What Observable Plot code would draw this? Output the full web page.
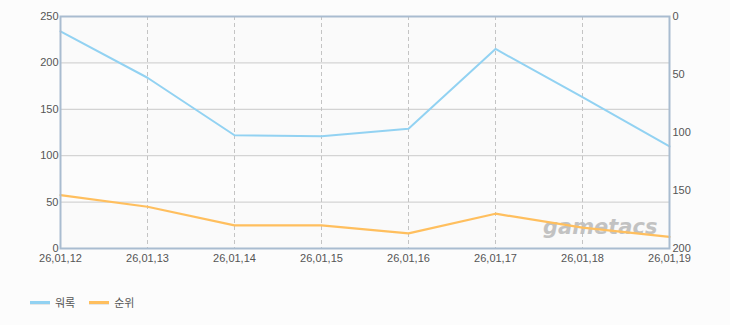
<!DOCTYPE html>
<html>
<head>
<meta charset="utf-8">
<script src="https://cdn.jsdelivr.net/npm/d3@7"></script>
<script src="https://cdn.jsdelivr.net/npm/@observablehq/plot@0.6"></script>
<style>
  html, body { margin: 0; padding: 0; background: #fcfcfc; }
  #chart { width: 730px; }
  .legend { display: flex; align-items: center; margin: 14px 0 0 30px; font: 11px "Liberation Sans", "Noto Sans CJK KR", sans-serif; color: #555; }
  .legend .item { display: flex; align-items: center; margin-right: 14px; }
  .legend .sw { width: 20px; height: 3px; margin-right: 5px; box-shadow: 0 1px 0 #e6e6e6; }
</style>
</head>
<body>
<div id="chart"></div>
<script>
// Data
const dates = ["26,01,12", "26,01,13", "26,01,14", "26,01,15", "26,01,16", "26,01,17", "26,01,18", "26,01,19"];
const seriesNames = ["워록", "순위"];
const recordValues = [234, 184, 122, 121, 129, 215, 163, 110];   // left axis
const rankValues = [154, 164, 180, 180, 187, 170, 182, 190];      // right axis (reversed)
const leftTicks = [0, 50, 100, 150, 200, 250];
const rightTicks = [0, 50, 100, 150, 200];
const colors = ["#92d2f2", "#ffbf5e"];

const leftMax = 250, rightMax = 200;
const rankToLeft = r => leftMax - r * leftMax / rightMax;
const leftToRank = v => Math.round((leftMax - v) * rightMax / leftMax);

const recordData = dates.map((d, i) => ({date: d, v: recordValues[i]}));
const rankData = dates.map((d, i) => ({date: d, v: rankToLeft(rankValues[i])}));
const bands = [[0, 50], [100, 150], [200, 250]];

const chart = Plot.plot({
  width: 730,
  height: 280,
  marginTop: 16,
  marginBottom: 32,
  marginLeft: 60,
  marginRight: 61,
  style: {background: "transparent", fontFamily: "'Liberation Sans', Arial, sans-serif", fontSize: "11px", color: "#555"},
  x: {type: "point", domain: dates, padding: 0},
  y: {domain: [0, leftMax]},
  marks: [
    Plot.rect(bands, {y1: d => d[0], y2: d => d[1], fill: "#fafafa"}),
    Plot.ruleY(leftTicks.filter(t => t > 0 && t < leftMax), {stroke: "#cacaca", strokeWidth: 1}),
    Plot.ruleX(dates.slice(1, -1), {stroke: "#c4c4c4", strokeDasharray: "4,3", strokeWidth: 1}),
    Plot.text(["gametacs"], {frameAnchor: "bottom-right", dx: -12, dy: -15, fill: "#b9b9b9", fontSize: 21, fontWeight: "bold", fontStyle: "italic", fontFamily: "'DejaVu Sans', sans-serif", opacity: 0.85}),
    Plot.line(recordData, {x: "date", y: "v", stroke: colors[0], strokeWidth: 2}),
    Plot.line(rankData, {x: "date", y: "v", stroke: colors[1], strokeWidth: 2.2}),
    Plot.frame({stroke: "#a9bcd0", strokeWidth: 2}),
    Plot.axisY(leftTicks, {anchor: "left", tickSize: 0, tickPadding: 2, label: null, fill: "#555"}),
    Plot.axisY(rightTicks.map(rankToLeft), {anchor: "right", tickSize: 0, tickPadding: 3, label: null, tickFormat: leftToRank, fill: "#555"}),
    Plot.axisX(dates, {anchor: "bottom", tickSize: 0, tickPadding: 6, label: null, fill: "#555"})
  ]
});
document.getElementById("chart").appendChild(chart);

const legend = document.createElement("div");
legend.className = "legend";
seriesNames.forEach((name, i) => {
  const item = document.createElement("div");
  item.className = "item";
  const sw = document.createElement("span");
  sw.className = "sw";
  sw.style.background = colors[i];
  const label = document.createElement("span");
  label.textContent = name;
  item.appendChild(sw);
  item.appendChild(label);
  legend.appendChild(item);
});
document.getElementById("chart").appendChild(legend);
</script>
</body>
</html>
